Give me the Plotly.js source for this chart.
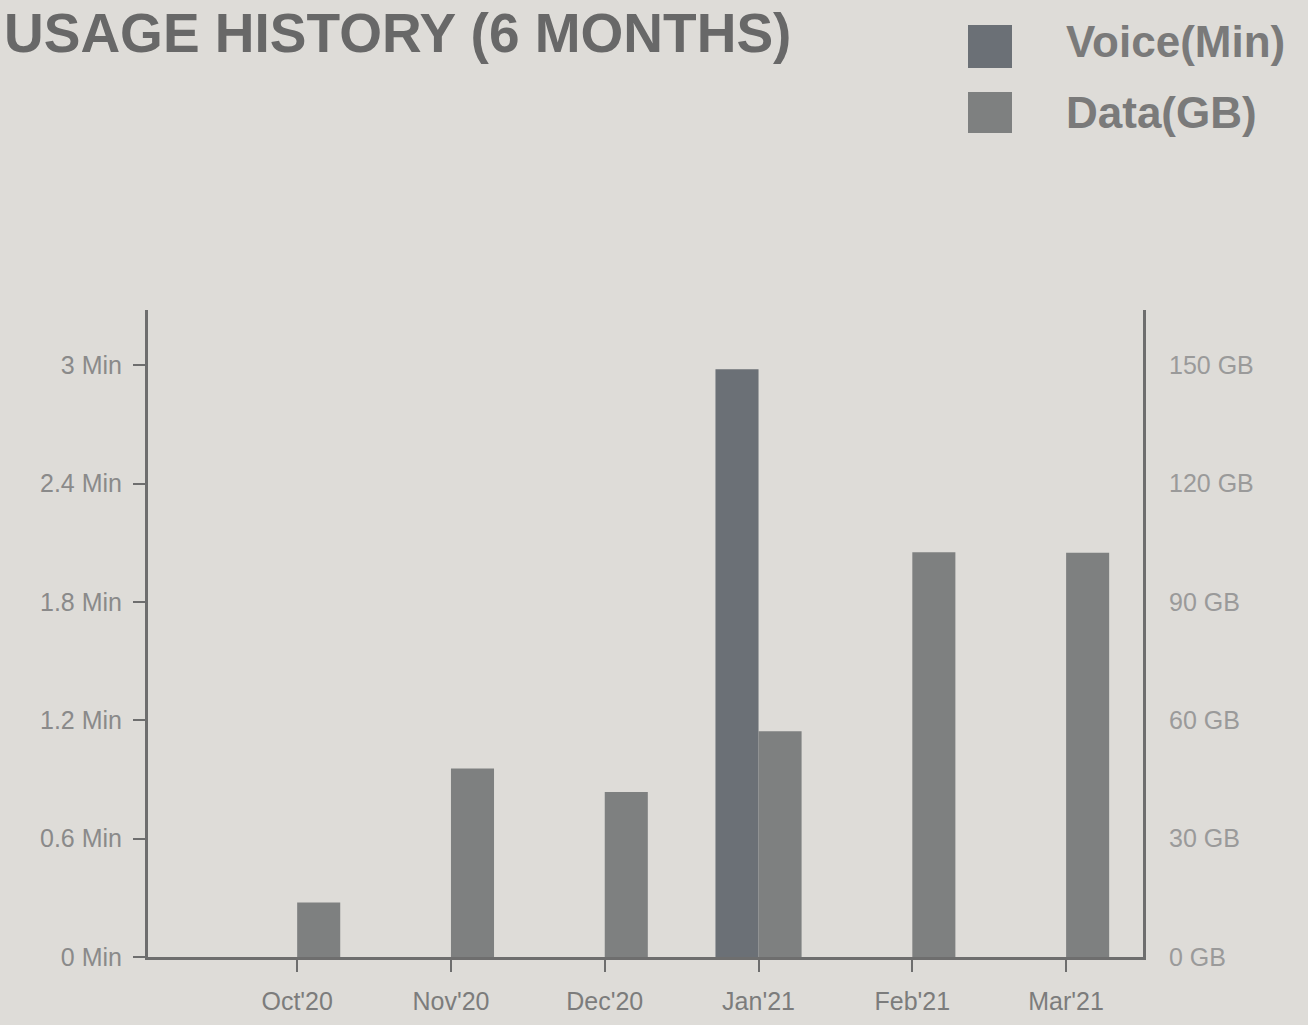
<!DOCTYPE html>
<html>
<head>
<meta charset="utf-8">
<script src="https://cdn.plot.ly/plotly-3.0.1.min.js"></script>
<style>
  html, body { margin: 0; padding: 0; background: #dedcd8; }
  #chart { width: 1308px; height: 1025px; }
</style>
</head>
<body>
<div id="chart"></div>
<script>
// ---- data ----
const months = ["Oct'20", "Nov'20", "Dec'20", "Jan'21", "Feb'21", "Mar'21"];
const voiceMin = [0, 0, 0, 2.98, 0, 0];
const dataGB = [13.8, 47.8, 41.8, 57.2, 102.6, 102.5];
const voiceTicks = [0, 0.6, 1.2, 1.8, 2.4, 3];
const voiceTickText = ["0 Min", "0.6 Min", "1.2 Min", "1.8 Min", "2.4 Min", "3 Min"];
const dataTicks = [0, 30, 60, 90, 120, 150];
const dataTickText = ["0 GB", "30 GB", "60 GB", "90 GB", "120 GB", "150 GB"];
const seriesNames = ["Voice(Min)", "Data(GB)"];
const titleText = "USAGE HISTORY (6 MONTHS)";

// ---- layout helpers ----
const W = 1308, H = 1025;
const M = { l: 148, r: 165, t: 310, b: 68 };
const pw = W - M.l - M.r, ph = H - M.t - M.b;
const px = x => (x - M.l) / pw;
const py = y => (H - M.b - y) / ph;

const voiceColor = "#6b7076";
const dataColor = "#7e8080";
const bg = "#dedcd8";
const fam = "Liberation Sans, Arial, sans-serif";

const traces = [
  {
    type: "bar", name: seriesNames[0], x: months, y: voiceMin,
    yaxis: "y", offsetgroup: "voice",
    marker: { color: voiceColor, line: { width: 0 } },
    hoverinfo: "x+y"
  },
  {
    type: "bar", name: seriesNames[1], x: months, y: dataGB,
    yaxis: "y2", offsetgroup: "data",
    marker: { color: dataColor, line: { width: 0 } },
    hoverinfo: "x+y"
  }
];

const layout = {
  width: W, height: H,
  margin: M,
  paper_bgcolor: bg, plot_bgcolor: bg,
  showlegend: false,
  barmode: "group",
  bargap: 0.44,
  bargroupgap: 0,
  font: { family: fam, color: "#808080" },
  xaxis: {
    type: "category",
    range: [-0.97, 5.5],
    showline: true, linecolor: "#6e6e6e", linewidth: 3,
    ticks: "outside", ticklen: 12, tickwidth: 2, tickcolor: "#6e6e6e",
    ticklabelstandoff: 8,
    tickfont: { size: 25, color: "#7c7c7c", family: fam },
    showgrid: false, zeroline: false, fixedrange: true
  },
  yaxis: {
    range: [0, 3.28],
    tickvals: voiceTicks, ticktext: voiceTickText,
    showline: true, linecolor: "#6e6e6e", linewidth: 3,
    ticks: "outside", ticklen: 12, tickwidth: 2, tickcolor: "#6e6e6e",
    ticklabelstandoff: 6,
    tickfont: { size: 25, color: "#8a8a8a", family: fam },
    showgrid: false, zeroline: false, fixedrange: true
  },
  yaxis2: {
    overlaying: "y", side: "right",
    range: [0, 164],
    tickvals: dataTicks, ticktext: dataTickText,
    showline: true, linecolor: "#6e6e6e", linewidth: 3,
    ticks: "", ticklabelstandoff: 18,
    tickfont: { size: 25, color: "#9a9a9a", family: fam },
    showgrid: false, zeroline: false, fixedrange: true
  },
  shapes: [
    { type: "rect", xref: "paper", yref: "paper", x0: px(968), x1: px(1012), y0: py(68), y1: py(25),
      fillcolor: voiceColor, line: { width: 0 } },
    { type: "rect", xref: "paper", yref: "paper", x0: px(968), x1: px(1012), y0: py(133), y1: py(92),
      fillcolor: dataColor, line: { width: 0 } }
  ],
  annotations: [
    { xref: "paper", yref: "paper", x: px(2), y: py(33), xanchor: "left", yanchor: "middle",
      text: "<b>" + titleText + "</b>", showarrow: false,
      font: { size: 55, color: "#686868", family: fam } },
    { xref: "paper", yref: "paper", x: px(1064), y: py(42), xanchor: "left", yanchor: "middle",
      text: "<b>" + seriesNames[0] + "</b>", showarrow: false,
      font: { size: 44, color: "#7a7a7a", family: fam } },
    { xref: "paper", yref: "paper", x: px(1064), y: py(112), xanchor: "left", yanchor: "middle",
      text: "<b>" + seriesNames[1] + "</b>", showarrow: false,
      font: { size: 44, color: "#7a7a7a", family: fam } }
  ]
};

Plotly.newPlot("chart", traces, layout, { displayModeBar: false, staticPlot: true });
</script>
</body>
</html>
